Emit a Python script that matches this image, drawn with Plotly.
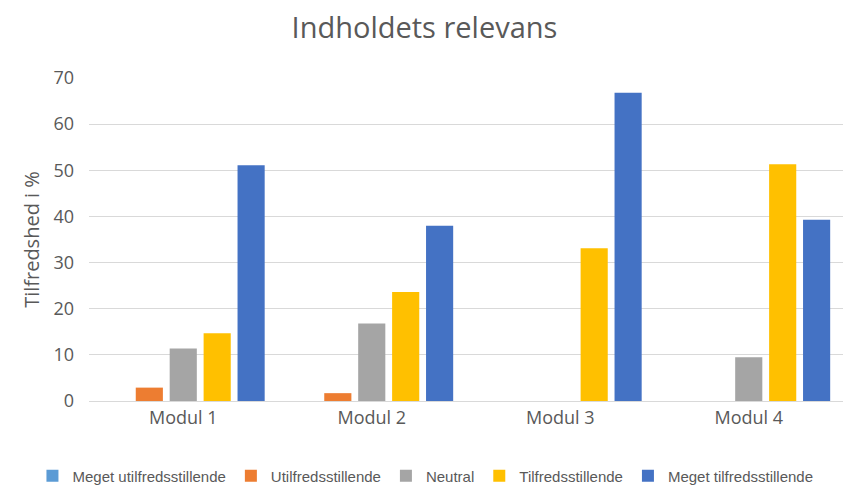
import plotly.graph_objects as go

categories = ["Modul 1", "Modul 2", "Modul 3", "Modul 4"]
series_names = ["Meget utilfredsstillende", "Utilfredsstillende", "Neutral",
                "Tilfredsstillende", "Meget tilfredsstillende"]
meget_utilfreds = [0, 0, 0, 0]
utilfreds = [2.9, 1.7, 0, 0]
neutral = [11.4, 16.8, 0, 9.5]
tilfreds = [14.7, 23.6, 33.1, 51.3]
meget_tilfreds = [51.1, 38.0, 66.8, 39.3]
colors = ["#5B9BD5", "#ED7D31", "#A5A5A5", "#FFC000", "#4472C4"]
y_ticks = [0, 10, 20, 30, 40, 50, 60, 70]

values = [meget_utilfreds, utilfreds, neutral, tilfreds, meget_tilfreds]

fig = go.Figure()
for name, vals, col in zip(series_names, values, colors):
    fig.add_trace(go.Bar(name=name, x=categories, y=vals,
                         marker=dict(color=col, line=dict(width=0))))

font_main = "Open Sans, Liberation Sans, sans-serif"
fig.update_layout(
    width=849, height=485,
    paper_bgcolor="white", plot_bgcolor="white",
    barmode="group", bargap=0.1, bargroupgap=0.2,
    margin=dict(l=89, r=6, t=78, b=84, autoexpand=False),
    title=dict(text="Indholdets relevans", x=0.5, xanchor="center",
               y=0.942, yanchor="middle",
               font=dict(family=font_main, size=29, color="#595959")),
    font=dict(family=font_main, color="#595959"),
    showlegend=True,
    legend=dict(orientation="h", x=-0.075, xanchor="left", y=-0.232, yanchor="middle",
                font=dict(family="Liberation Sans Narrow, Liberation Sans, sans-serif",
                          size=15, color="#595959"),
                itemwidth=30, tracegroupgap=0),
)
fig.update_xaxes(showgrid=False, showline=True, linecolor="#D9D9D9", linewidth=1,
                 ticks="", automargin=False, tickfont=dict(size=18, color="#595959"))
fig.update_yaxes(range=[0, 70], tickvals=y_ticks, showgrid=True, gridcolor="#D9D9D9",
                 gridwidth=1, zeroline=False, showline=False, ticks="", automargin=False,
                 ticklabelstandoff=14,
                 tickfont=dict(size=18, color="#595959"),
                 title=dict(text="Tilfredshed i %", font=dict(size=20, color="#595959"),
                            standoff=8))

fig.write_html("out.html", config={"displayModeBar": False},
               post_script="document.body.style.margin='0';document.body.style.overflow='hidden';")
